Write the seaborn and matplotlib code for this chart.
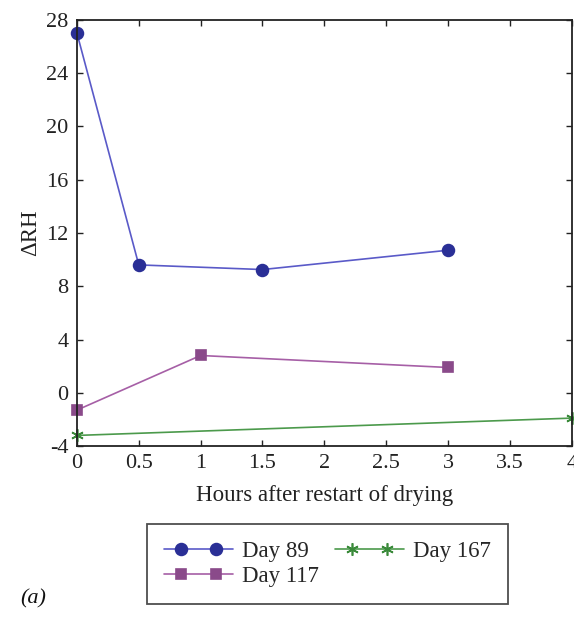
import matplotlib
matplotlib.use("Agg")
import matplotlib.pyplot as plt
from matplotlib.lines import Line2D
from matplotlib.legend_handler import HandlerLine2D
import seaborn as sns
import pandas as pd

day89_x = [0, 0.5, 1.5, 3]
day89_y = [27.0, 9.6, 9.25, 10.7]
day117_x = [0, 1, 3]
day117_y = [-1.3, 2.8, 1.9]
day167_x = [0, 4]
day167_y = [-3.2, -1.9]

x_ticks = [0, 0.5, 1, 1.5, 2, 2.5, 3, 3.5, 4]
x_tick_labels = ["0", "0.5", "1", "1.5", "2", "2.5", "3", "3.5", "4"]
y_ticks = [-4, 0, 4, 8, 12, 16, 20, 24, 28]
y_tick_labels = ["-4", "0", "4", "8", "12", "16", "20", "24", "28"]


class TwoMarkerHandler(HandlerLine2D):
    def create_artists(self, legend, orig_handle, xdescent, ydescent,
                       width, height, fontsize, trans):
        pad = 0.75 * fontsize
        x0 = -xdescent
        x1 = -xdescent + width
        y = (height - ydescent) / 2
        line = Line2D([x0, x0 + pad, x1 - pad, x1], [y, y, y, y])
        self.update_prop(line, orig_handle, legend)
        line.set_markevery([1, 2])
        line.set_transform(trans)
        return [line]


sns.set_theme(style="ticks")
plt.rcParams['font.family'] = ['Liberation Serif', 'DejaVu Serif']
plt.rcParams['axes.unicode_minus'] = False

fig = plt.figure(figsize=(5.74, 6.17), dpi=100)
ax = fig.add_axes([0.134, 0.277, 0.862, 0.691])

series = [
    ("Day 89", day89_x, day89_y, "#5a5ac8", "#2a2f96", "o", 8.5),
    ("Day 117", day117_x, day117_y, "#a65fa6", "#8a4a8a", "s", 7.5),
    ("Day 167", day167_x, day167_y, "#4c9a4c", "#3a8a3a", (6, 2, 0), 9),
]
for name, xs, ys, lc, mc, mk, ms in series:
    df = pd.DataFrame({"x": xs, "y": ys})
    sns.lineplot(data=df, x="x", y="y", ax=ax, color=lc, marker=mk,
                 markersize=ms, markerfacecolor=mc, markeredgecolor=mc,
                 markeredgewidth=1.2, linewidth=1.2, label=name, clip_on=False)

ax.set_xlim(0, 4)
ax.set_ylim(-4, 28)
ax.set_xticks(x_ticks)
ax.set_xticklabels(x_tick_labels)
ax.set_yticks(y_ticks)
ax.set_yticklabels(y_tick_labels)
ax.tick_params(direction="in", top=True, right=True, labelsize=16, length=4,
               width=1, pad=6, colors="#222222", labelcolor="#222222")
for s in ax.spines.values():
    s.set_color("#222222")
    s.set_linewidth(1.3)
ax.set_xlabel("Hours after restart of drying", fontsize=16.5, color="#222222", labelpad=8)
ax.set_ylabel("ΔRH", fontsize=16.5, color="#222222", labelpad=4)

ax.legend_.remove()
handles, labels = ax.get_legend_handles_labels()
leg = fig.legend(handles, labels, ncol=2, loc="center", bbox_to_anchor=(0.5706, 0.0859),
                 frameon=True, fancybox=False, fontsize=16.5, handlelength=3.0,
                 handletextpad=0.4, columnspacing=0.7, borderpad=0.75, labelspacing=0.15,
                 handler_map={Line2D: TwoMarkerHandler()})
leg.get_frame().set_edgecolor("#222222")
leg.get_frame().set_linewidth(1.3)

fig.text(0.035, 0.022, "(a)", fontsize=16, style="italic", color="#111111",
         family=["Liberation Serif"])

fig.savefig("out.png", dpi=100)
